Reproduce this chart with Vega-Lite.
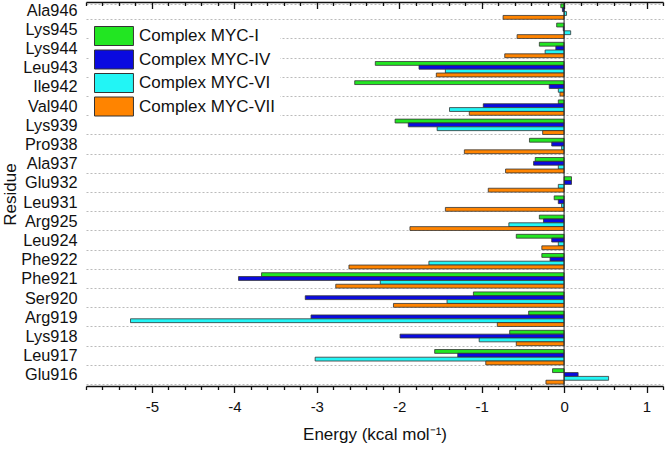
{
  "$schema": "https://vega.github.io/schema/vega-lite/v6.json",
  "width": 577,
  "height": 384,
  "autosize": {"type": "none"},
  "padding": {"left": 86, "top": 2, "right": 3, "bottom": 63},
  "config": {"view": {"stroke": null}, "font": "Liberation Sans"},
  "data": {"values": [
    {"residue": "Ala946", "complex": "Complex MYC-I", "energy": -0.04},
    {"residue": "Ala946", "complex": "Complex MYC-IV", "energy": -0.02},
    {"residue": "Ala946", "complex": "Complex MYC-VI", "energy": 0.03},
    {"residue": "Ala946", "complex": "Complex MYC-VII", "energy": -0.74},
    {"residue": "Lys945", "complex": "Complex MYC-I", "energy": -0.09},
    {"residue": "Lys945", "complex": "Complex MYC-IV", "energy": -0.01},
    {"residue": "Lys945", "complex": "Complex MYC-VI", "energy": 0.08},
    {"residue": "Lys945", "complex": "Complex MYC-VII", "energy": -0.57},
    {"residue": "Lys944", "complex": "Complex MYC-I", "energy": -0.30},
    {"residue": "Lys944", "complex": "Complex MYC-IV", "energy": -0.10},
    {"residue": "Lys944", "complex": "Complex MYC-VI", "energy": -0.23},
    {"residue": "Lys944", "complex": "Complex MYC-VII", "energy": -0.72},
    {"residue": "Leu943", "complex": "Complex MYC-I", "energy": -2.29},
    {"residue": "Leu943", "complex": "Complex MYC-IV", "energy": -1.76},
    {"residue": "Leu943", "complex": "Complex MYC-VI", "energy": -1.44},
    {"residue": "Leu943", "complex": "Complex MYC-VII", "energy": -1.55},
    {"residue": "Ile942", "complex": "Complex MYC-I", "energy": -2.54},
    {"residue": "Ile942", "complex": "Complex MYC-IV", "energy": -0.18},
    {"residue": "Ile942", "complex": "Complex MYC-VI", "energy": -0.07},
    {"residue": "Ile942", "complex": "Complex MYC-VII", "energy": -0.05},
    {"residue": "Val940", "complex": "Complex MYC-I", "energy": -0.07},
    {"residue": "Val940", "complex": "Complex MYC-IV", "energy": -0.98},
    {"residue": "Val940", "complex": "Complex MYC-VI", "energy": -1.39},
    {"residue": "Val940", "complex": "Complex MYC-VII", "energy": -1.15},
    {"residue": "Lys939", "complex": "Complex MYC-I", "energy": -2.05},
    {"residue": "Lys939", "complex": "Complex MYC-IV", "energy": -1.89},
    {"residue": "Lys939", "complex": "Complex MYC-VI", "energy": -1.54},
    {"residue": "Lys939", "complex": "Complex MYC-VII", "energy": -0.26},
    {"residue": "Pro938", "complex": "Complex MYC-I", "energy": -0.42},
    {"residue": "Pro938", "complex": "Complex MYC-IV", "energy": -0.15},
    {"residue": "Pro938", "complex": "Complex MYC-VI", "energy": -0.03},
    {"residue": "Pro938", "complex": "Complex MYC-VII", "energy": -1.21},
    {"residue": "Ala937", "complex": "Complex MYC-I", "energy": -0.35},
    {"residue": "Ala937", "complex": "Complex MYC-IV", "energy": -0.37},
    {"residue": "Ala937", "complex": "Complex MYC-VI", "energy": -0.07},
    {"residue": "Ala937", "complex": "Complex MYC-VII", "energy": -0.71},
    {"residue": "Glu932", "complex": "Complex MYC-I", "energy": 0.09},
    {"residue": "Glu932", "complex": "Complex MYC-IV", "energy": 0.09},
    {"residue": "Glu932", "complex": "Complex MYC-VI", "energy": -0.07},
    {"residue": "Glu932", "complex": "Complex MYC-VII", "energy": -0.92},
    {"residue": "Leu931", "complex": "Complex MYC-I", "energy": -0.12},
    {"residue": "Leu931", "complex": "Complex MYC-IV", "energy": -0.07},
    {"residue": "Leu931", "complex": "Complex MYC-VI", "energy": -0.03},
    {"residue": "Leu931", "complex": "Complex MYC-VII", "energy": -1.44},
    {"residue": "Arg925", "complex": "Complex MYC-I", "energy": -0.30},
    {"residue": "Arg925", "complex": "Complex MYC-IV", "energy": -0.25},
    {"residue": "Arg925", "complex": "Complex MYC-VI", "energy": -0.67},
    {"residue": "Arg925", "complex": "Complex MYC-VII", "energy": -1.87},
    {"residue": "Leu924", "complex": "Complex MYC-I", "energy": -0.58},
    {"residue": "Leu924", "complex": "Complex MYC-IV", "energy": -0.15},
    {"residue": "Leu924", "complex": "Complex MYC-VI", "energy": -0.07},
    {"residue": "Leu924", "complex": "Complex MYC-VII", "energy": -0.27},
    {"residue": "Phe922", "complex": "Complex MYC-I", "energy": -0.27},
    {"residue": "Phe922", "complex": "Complex MYC-IV", "energy": -0.17},
    {"residue": "Phe922", "complex": "Complex MYC-VI", "energy": -1.64},
    {"residue": "Phe922", "complex": "Complex MYC-VII", "energy": -2.61},
    {"residue": "Phe921", "complex": "Complex MYC-I", "energy": -3.67},
    {"residue": "Phe921", "complex": "Complex MYC-IV", "energy": -3.95},
    {"residue": "Phe921", "complex": "Complex MYC-VI", "energy": -2.23},
    {"residue": "Phe921", "complex": "Complex MYC-VII", "energy": -2.77},
    {"residue": "Ser920", "complex": "Complex MYC-I", "energy": -1.10},
    {"residue": "Ser920", "complex": "Complex MYC-IV", "energy": -3.14},
    {"residue": "Ser920", "complex": "Complex MYC-VI", "energy": -1.42},
    {"residue": "Ser920", "complex": "Complex MYC-VII", "energy": -2.07},
    {"residue": "Arg919", "complex": "Complex MYC-I", "energy": -0.43},
    {"residue": "Arg919", "complex": "Complex MYC-IV", "energy": -3.07},
    {"residue": "Arg919", "complex": "Complex MYC-VI", "energy": -5.26},
    {"residue": "Arg919", "complex": "Complex MYC-VII", "energy": -0.81},
    {"residue": "Lys918", "complex": "Complex MYC-I", "energy": -0.66},
    {"residue": "Lys918", "complex": "Complex MYC-IV", "energy": -1.99},
    {"residue": "Lys918", "complex": "Complex MYC-VI", "energy": -1.03},
    {"residue": "Lys918", "complex": "Complex MYC-VII", "energy": -0.58},
    {"residue": "Leu917", "complex": "Complex MYC-I", "energy": -1.57},
    {"residue": "Leu917", "complex": "Complex MYC-IV", "energy": -1.29},
    {"residue": "Leu917", "complex": "Complex MYC-VI", "energy": -3.02},
    {"residue": "Leu917", "complex": "Complex MYC-VII", "energy": -0.95},
    {"residue": "Glu916", "complex": "Complex MYC-I", "energy": -0.14},
    {"residue": "Glu916", "complex": "Complex MYC-IV", "energy": 0.17},
    {"residue": "Glu916", "complex": "Complex MYC-VI", "energy": 0.54},
    {"residue": "Glu916", "complex": "Complex MYC-VII", "energy": -0.22}
  ]},
  "layer": [
    {
      "mark": {"type": "bar", "stroke": "#333333", "strokeWidth": 0.8},
      "encoding": {
        "y": {
          "field": "residue", "type": "nominal",
          "sort": ["Ala946","Lys945","Lys944","Leu943","Ile942","Val940","Lys939","Pro938","Ala937","Glu932","Leu931","Arg925","Leu924","Phe922","Phe921","Ser920","Arg919","Lys918","Leu917","Glu916"],
          "scale": {"paddingInner": 0.2, "paddingOuter": 0.1},
          "axis": {
            "title": "Residue", "titleFontSize": 17, "titleFontWeight": "normal", "titleColor": "#111", "titlePadding": 1,
            "labelFontSize": 16.3, "labelColor": "#111", "labelPadding": 9, "labelOffset": -1.5,
            "ticks": false, "domain": false,
            "grid": true, "tickBand": "extent", "gridDash": [2, 2], "gridColor": "#bbbbbb", "gridWidth": 1
          }
        },
        "yOffset": {
          "field": "complex", "type": "nominal",
          "sort": ["Complex MYC-I","Complex MYC-IV","Complex MYC-VI","Complex MYC-VII"],
          "scale": {"paddingInner": 0, "paddingOuter": 0}
        },
        "x": {
          "field": "energy", "type": "quantitative",
          "scale": {"domain": [-5.8, 1.2], "nice": false, "zero": false},
          "axis": {
            "orient": "bottom",
            "values": [-5.8,-5.6,-5.4,-5.2,-5,-4.8,-4.6,-4.4,-4.2,-4,-3.8,-3.6,-3.4,-3.2,-3,-2.8,-2.6,-2.4,-2.2,-2,-1.8,-1.6,-1.4,-1.2,-1,-0.8,-0.6,-0.4,-0.2,0,0.2,0.4,0.6,0.8,1,1.2],
            "labelExpr": "abs(datum.value - round(datum.value)) < 0.01 ? '' + round(datum.value) : ''",
            "tickSize": {"condition": {"test": "abs(datum.value - round(datum.value)) < 0.01", "value": 6.5}, "value": 3.5},
            "grid": false, "labelOverlap": false, "labelFlush": false,
            "domainColor": "#111", "domainWidth": 1.5, "tickColor": "#111", "tickWidth": 1.3,
            "labelFontSize": 15, "labelColor": "#111", "labelPadding": 7,
            "title": "Energy (kcal mol⁻¹)", "titleFontSize": 17, "titleFontWeight": "normal", "titleColor": "#111", "titlePadding": 12
          }
        },
        "color": {
          "field": "complex", "type": "nominal",
          "scale": {"domain": ["Complex MYC-I","Complex MYC-IV","Complex MYC-VI","Complex MYC-VII"], "range": ["#22E622","#0A0AE0","#22F5F5","#FF8400"]},
          "legend": {
            "title": null, "orient": "none", "legendX": 4, "legendY": 20,
            "fillColor": "white", "padding": 4,
            "symbolType": "M-1,-1L3.1,-1L3.1,1L-1,1Z", "symbolSize": 361,
            "symbolStrokeColor": "#333333", "symbolStrokeWidth": 1, "symbolOpacity": 1,
            "labelFontSize": 17, "labelColor": "#111", "labelOffset": 25, "rowPadding": -0.5, "labelLimit": 300
          }
        }
      }
    },
    {
      "data": {"values": [{"energy": 0}]},
      "mark": {"type": "rule", "color": "#222222", "strokeWidth": 1},
      "encoding": {
        "x": {
          "field": "energy", "type": "quantitative",
          "axis": {
            "orient": "top",
            "values": [-5.8,-5.6,-5.4,-5.2,-5,-4.8,-4.6,-4.4,-4.2,-4,-3.8,-3.6,-3.4,-3.2,-3,-2.8,-2.6,-2.4,-2.2,-2,-1.8,-1.6,-1.4,-1.2,-1,-0.8,-0.6,-0.4,-0.2,0,0.2,0.4,0.6,0.8,1,1.2],
            "labels": false, "title": null, "grid": false,
            "tickSize": {"condition": {"test": "abs(datum.value - round(datum.value)) < 0.01", "value": -6.5}, "value": -3.5},
            "domainColor": "#111", "domainWidth": 1.5, "tickColor": "#111", "tickWidth": 1.3
          }
        }
      }
    }
  ],
  "resolve": {"axis": {"x": "independent"}}
}
